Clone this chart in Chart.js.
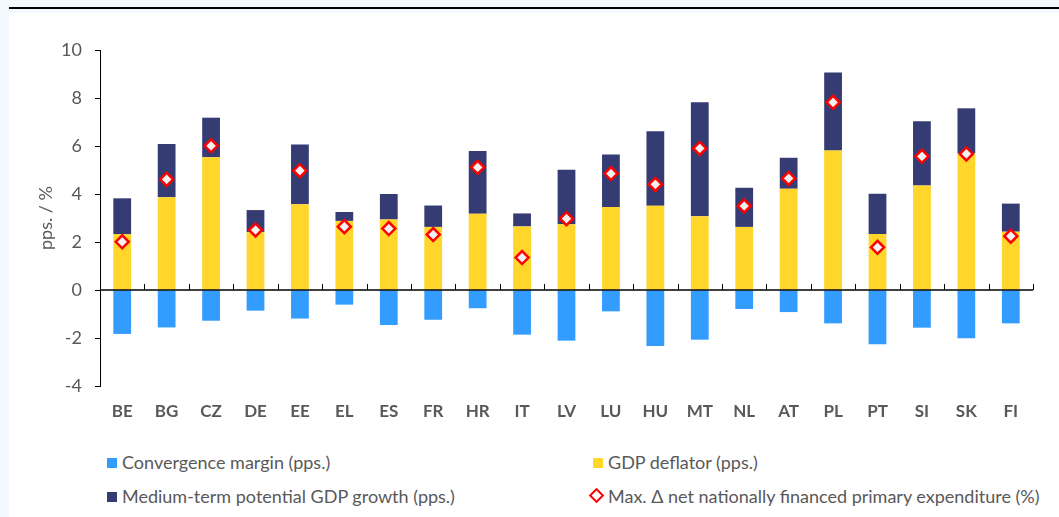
<!DOCTYPE html>
<html>
<head>
<meta charset="utf-8">
<script src="https://cdn.jsdelivr.net/npm/chart.js@4"></script>
<style>
  body { margin: 0; width: 1059px; height: 517px; background: #fff; position: relative; overflow: hidden; font-family: Lato, "Open Sans", sans-serif; }
  .band-top { position: absolute; left: 0; top: 0; width: 1059px; height: 13px; background: #f4f9ff; }
  .band-left { position: absolute; left: 0; top: 0; width: 9px; height: 517px; background: #f4f9ff; }
  .rule { position: absolute; left: 9px; top: 7px; width: 1050px; height: 2px; background: #000; }
  #wrap { position: absolute; left: 0; top: 0; width: 1059px; height: 440px; }
  .leg { position: absolute; font-size: 18px; color: #595959; white-space: nowrap; line-height: 20px; }
  .sq { display: inline-block; width: 10px; height: 10px; margin-right: 5px; vertical-align: 1px; }
  .dia { display: inline-block; width: 7px; height: 7px; border: 2px solid #ff0000; background: #fff; transform: rotate(45deg); margin: 0 6px 0 2px; vertical-align: 2px; }
</style>
</head>
<body>
<div class="band-top"></div>
<div class="band-left"></div>
<div class="rule"></div>
<div id="wrap"><canvas id="myChart"></canvas></div>

<div class="leg" style="left:107px; top:452px;"><span class="sq" style="background:#339cff"></span>Convergence margin (pps.)</div>
<div class="leg" style="left:593px; top:452px;"><span class="sq" style="background:#ffd629"></span>GDP deflator (pps.)</div>
<div class="leg" style="left:107px; top:486px;"><span class="sq" style="background:#353b73"></span>Medium-term potential GDP growth (pps.)</div>
<div class="leg" style="left:589px; top:486px;"><span class="dia"></span>Max. Δ net nationally financed primary expenditure (%)</div>

<script>
const countries = ['BE', 'BG', 'CZ', 'DE', 'EE', 'EL', 'ES', 'FR', 'HR', 'IT', 'LV', 'LU', 'HU', 'MT', 'NL', 'AT', 'PL', 'PT', 'SI', 'SK', 'FI'];
const convergence = [-1.83, -1.56, -1.28, -0.86, -1.19, -0.61, -1.46, -1.24, -0.76, -1.86, -2.11, -0.89, -2.33, -2.07, -0.79, -0.92, -1.39, -2.26, -1.57, -2.01, -1.39];
const deflator = [2.32, 3.86, 5.53, 2.42, 3.57, 2.88, 2.94, 2.63, 3.18, 2.65, 2.74, 3.46, 3.51, 3.07, 2.63, 4.22, 5.81, 2.33, 4.35, 5.69, 2.43];
const potential = [1.50, 2.22, 1.65, 0.91, 2.49, 0.37, 1.06, 0.89, 2.61, 0.54, 2.27, 2.19, 3.10, 4.75, 1.63, 1.29, 3.25, 1.68, 2.68, 1.88, 1.17];
const maxExpenditure = [2.01, 4.61, 6.01, 2.50, 4.97, 2.64, 2.56, 2.31, 5.11, 1.35, 2.97, 4.85, 4.40, 5.90, 3.50, 4.65, 7.82, 1.78, 5.57, 5.67, 2.24];
const yTicks = [-4, -2, 0, 2, 4, 6, 8, 10];

const grey = '#595959';

// zero line with small tick marks between the countries
const zeroLine = {
  id: 'zeroLine',
  afterDatasetsDraw(chart) {
    const ctx = chart.ctx;
    const x = chart.scales.x;
    const y0 = chart.scales.y.getPixelForValue(0);
    const area = chart.chartArea;
    ctx.save();
    ctx.strokeStyle = '#000';
    ctx.lineWidth = 1.5;
    ctx.beginPath();
    ctx.moveTo(area.left, y0);
    ctx.lineTo(area.right, y0);
    ctx.stroke();
    ctx.lineWidth = 1;
    for (let i = 0; i <= countries.length; i++) {
      let px;
      if (i == 0) px = area.left;
      else if (i == countries.length) px = area.right;
      else px = (x.getPixelForValue(i - 1) + x.getPixelForValue(i)) / 2;
      px = Math.round(px) + 0.5;
      ctx.beginPath();
      ctx.moveTo(px, y0);
      ctx.lineTo(px, y0 - 6);
      ctx.stroke();
    }
    ctx.restore();
  }
};

const data = {
  labels: countries,
  datasets: [
    {
      type: 'line',
      label: 'Max. Δ net nationally financed primary expenditure (%)',
      data: maxExpenditure,
      showLine: false,
      stack: 'max',
      pointStyle: 'rectRot',
      pointRadius: 6.5,
      pointBorderWidth: 2.5,
      pointBorderColor: '#ff0000',
      pointBackgroundColor: '#f2f2f2',
      order: 0,
    },
    {
      label: 'Convergence margin (pps.)',
      data: convergence,
      backgroundColor: '#339cff',
      stack: 'a',
      order: 1,
    },
    {
      label: 'GDP deflator (pps.)',
      data: deflator,
      backgroundColor: '#ffd629',
      stack: 'a',
      order: 1,
    },
    {
      label: 'Medium-term potential GDP growth (pps.)',
      data: potential,
      backgroundColor: '#353b73',
      stack: 'a',
      order: 1,
    },
  ]
};

const config = {
  type: 'bar',
  data: data,
  plugins: [zeroLine],
  options: {
    responsive: true,
    maintainAspectRatio: false,
    animation: false,
    layout: { padding: { left: 31, top: 50, right: 26, bottom: 0 } },
    datasets: { bar: { categoryPercentage: 1, barPercentage: 0.4 } },
    plugins: {
      legend: { display: false },
      tooltip: { enabled: false },
    },
    scales: {
      x: {
        stacked: true,
        grid: { display: false, drawTicks: false },
        border: { display: false },
        ticks: { color: grey, font: { family: 'Lato', size: 17, weight: 'bold' }, padding: 15 },
        afterFit(s) { s.height = 54; },
      },
      y: {
        stacked: true,
        min: -4,
        max: 10,
        afterBuildTicks(s) { s.ticks = yTicks.map(v => ({ value: v })); },
        grid: { drawOnChartArea: false, color: '#000', tickLength: 5 },
        border: { color: '#000', width: 1 },
        ticks: { color: grey, font: { family: 'Lato', size: 18 }, padding: 13 },
        title: { display: true, text: 'pps. / %', color: grey, font: { family: 'Lato', size: 18 } },
        afterFit(s) { s.width = 69; },
      }
    }
  }
};

const myChart = new Chart(document.getElementById('myChart'), config);
</script>
</body>
</html>
